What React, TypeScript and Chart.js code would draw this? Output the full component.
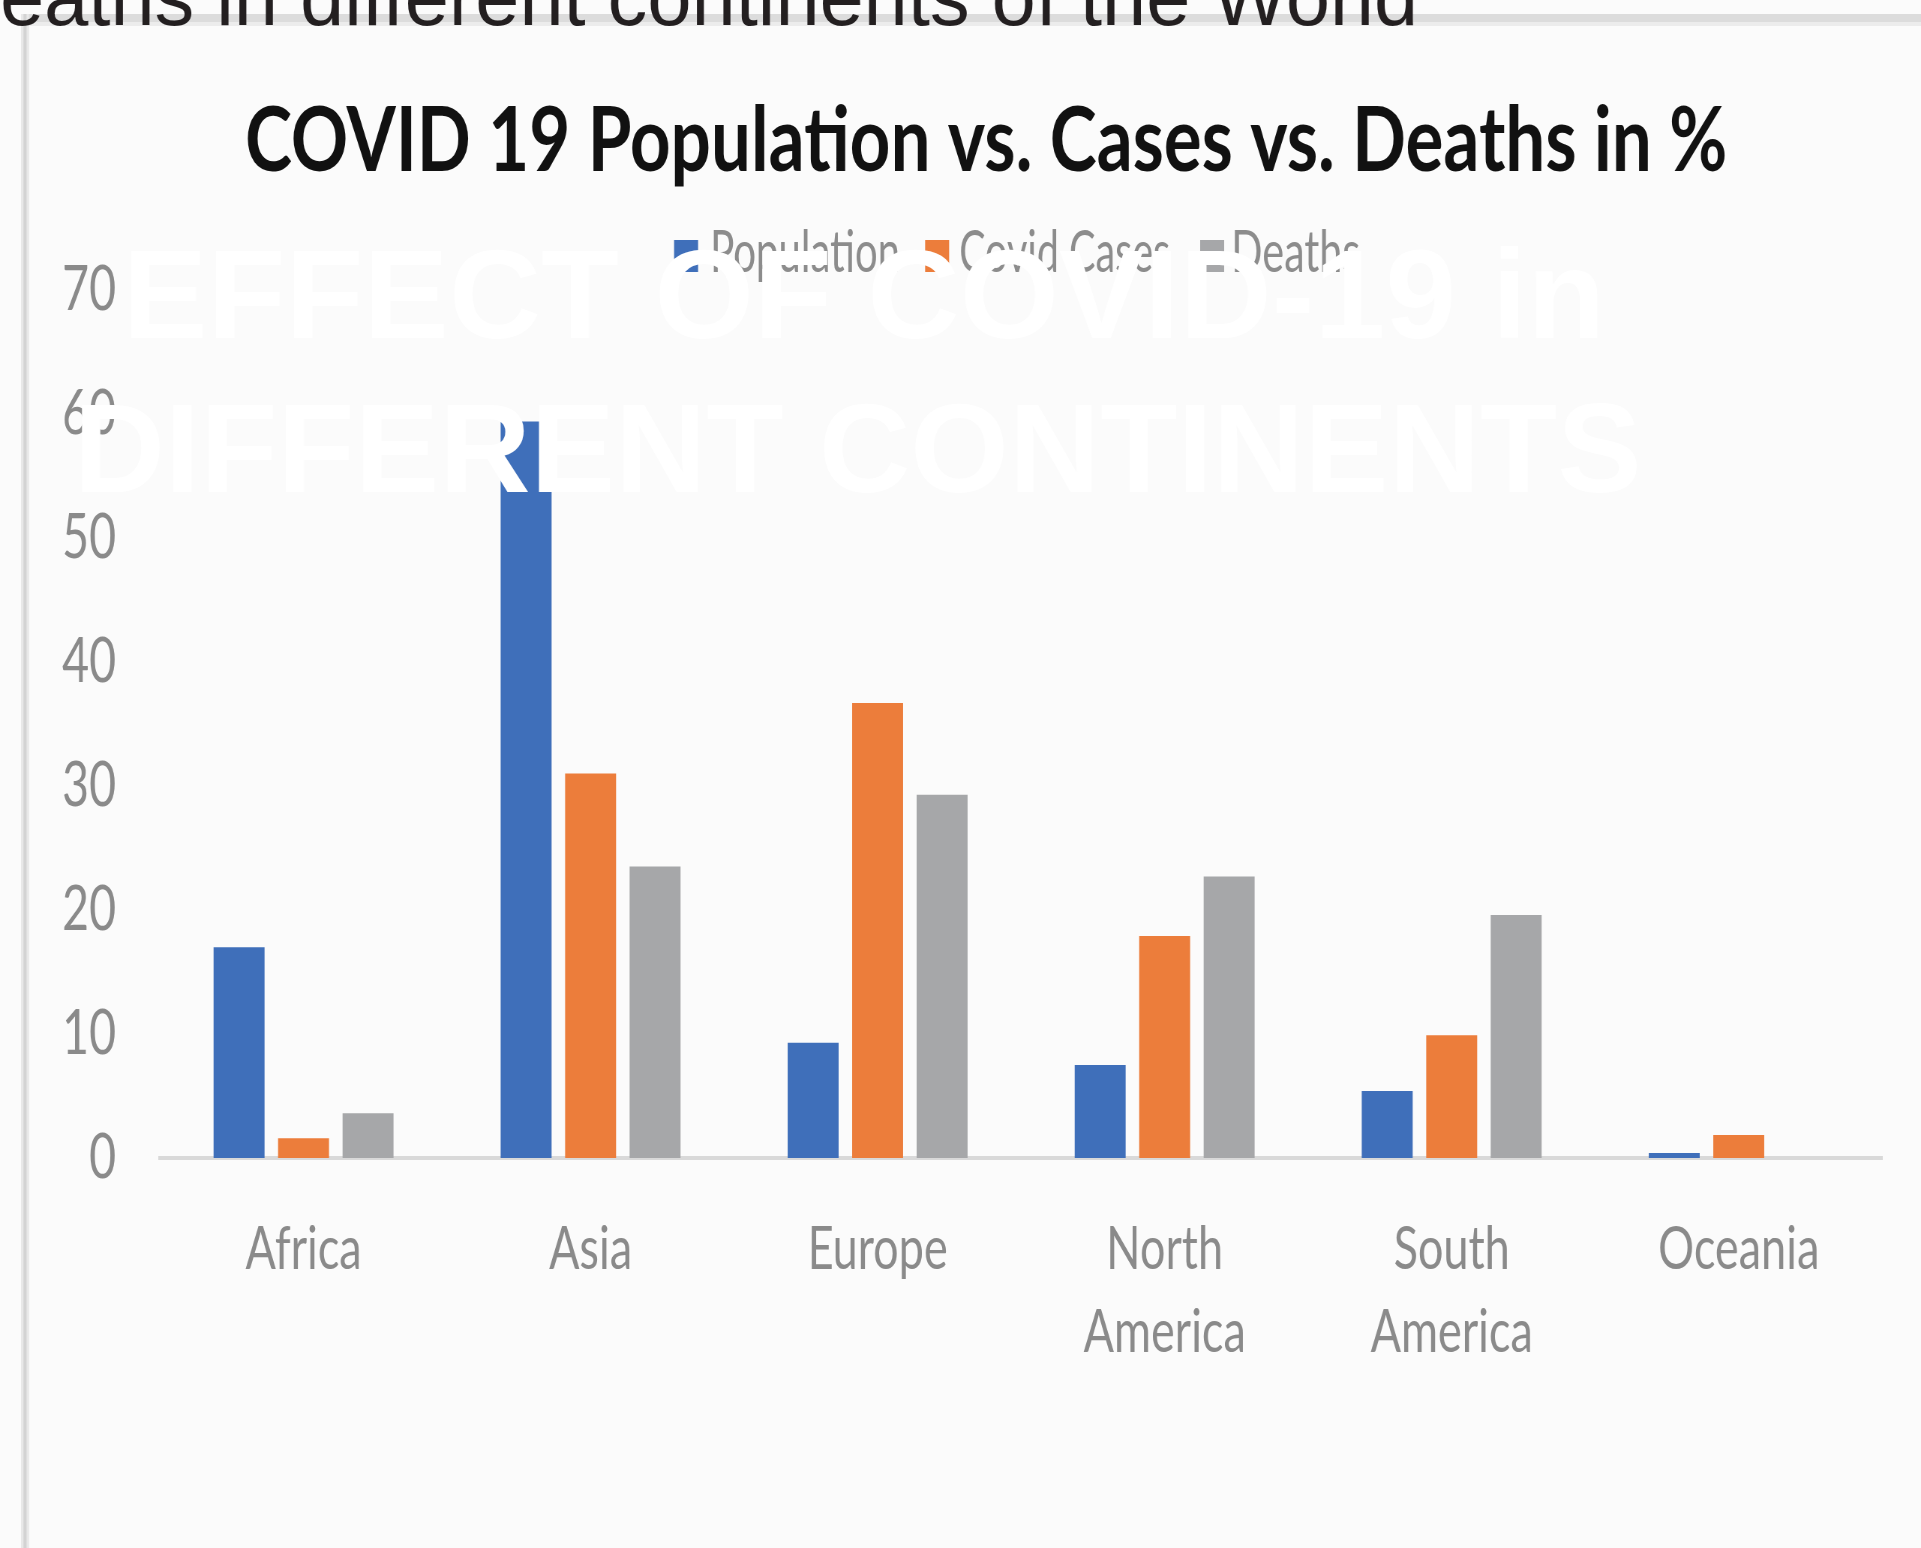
import React, { useEffect, useRef } from 'react';
import { Chart, registerables } from 'chart.js';

Chart.register(...registerables);

// ---------- data ----------
const continents: (string | string[])[] = ['Africa', 'Asia', 'Europe', ['North', 'America'], ['South', 'America'], 'Oceania'];
const populationPct = [17.0, 59.4, 9.3, 7.5, 5.4, 0.4];
const covidCasesPct = [1.6, 31.0, 36.7, 17.9, 9.9, 1.85];
const deathsPct = [3.6, 23.5, 29.3, 22.7, 19.6, 0];
const seriesNames = ['Population', 'Covid Cases', 'Deaths'];
const seriesColors = ['#3F6FBA', '#EC7D3B', '#A6A7A9'];
const yMin = 0;
const yMax = 70;
const yStep = 10;
const chartTitle = 'COVID 19 Population vs. Cases vs. Deaths in %';
const pageHeading = 'Deaths in different continents of the World';
const overlayLines = ['EFFECT OF COVID-19 in', 'DIFFERENT CONTINENTS'];

// ---------- geometry (display px -> internal px; canvas is squeezed horizontally) ----------
const S = 0.75;
const W = Math.round(1921 / S);
const H = 1548;
const X = (d: number) => d / S;

function fitText(ctx: CanvasRenderingContext2D, text: string, x: number, y: number, targetW: number, align: 'left' | 'center') {
  const w = ctx.measureText(text).width;
  const k = targetW / w;
  ctx.save();
  ctx.translate(x, y);
  ctx.scale(k, 1);
  ctx.textAlign = align;
  ctx.textBaseline = 'alphabetic';
  ctx.fillText(text, 0, 0);
  ctx.restore();
}

const decorPlugin = {
  id: 'decor',
  beforeDraw(chart: any) {
    const ctx: CanvasRenderingContext2D = chart.ctx;
    ctx.save();
    ctx.fillStyle = '#fbfbfb';
    ctx.fillRect(0, 0, W, H);
    // window-like top band and left rule
    ctx.fillStyle = '#dcdcdc';
    ctx.fillRect(X(22), 14, W, 8);
    ctx.fillStyle = '#ececec';
    ctx.fillRect(X(22), 22, W, 4);
    ctx.fillStyle = '#e8e8e8';
    ctx.fillRect(X(21), 14, X(8), H);
    ctx.fillStyle = '#d3d3d3';
    ctx.fillRect(X(23.5), 14, X(3), H);
    // cut-off heading at the very top
    ctx.font = '82px "Liberation Sans", Arial, sans-serif';
    ctx.fillStyle = '#231f20';
    ctx.textBaseline = 'alphabetic';
    ctx.textAlign = 'left';
    const rest = pageHeading.slice(1);
    const k = X(1418) / ctx.measureText(rest).width;
    const dW = ctx.measureText(pageHeading.slice(0, 1)).width * k;
    ctx.translate(-dW, 25);
    ctx.scale(k, 1);
    ctx.fillText(pageHeading, 0, 0);
    ctx.restore();
  },
  afterDraw(chart: any) {
    const ctx: CanvasRenderingContext2D = chart.ctx;
    ctx.save();
    // chart title
    ctx.font = 'bold 89px Lato, "Open Sans", sans-serif';
    ctx.fillStyle = '#111111';
    fitText(ctx, chartTitle, X(986), 171, X(1482), 'center');
    // legend
    const sqX = [674, 925, 1200];
    const txX = [710, 959, 1231];
    const txW = [190, 211, 129];
    ctx.font = '58px Lato, "Open Sans", sans-serif';
    chart.data.datasets.forEach((ds: any, i: number) => {
      ctx.fillStyle = ds.backgroundColor;
      ctx.fillRect(X(sqX[i]), 240, X(24), 32);
      ctx.fillStyle = '#8c8c8c';
      fitText(ctx, ds.label, X(txX[i]), 272, X(txW[i]), 'left');
    });
    // white overlay heading
    ctx.font = 'bold 127px "Liberation Sans", Arial, sans-serif';
    ctx.fillStyle = '#ffffff';
    fitText(ctx, overlayLines[0], X(122.5), 338, X(1482.5), 'left');
    fitText(ctx, overlayLines[1], X(73.5), 492, X(1568), 'left');
    ctx.restore();
  },
};

export default function App() {
  const canvasRef = useRef<HTMLCanvasElement | null>(null);

  useEffect(() => {
    if (!canvasRef.current) return;
    const values = [populationPct, covidCasesPct, deathsPct];
    const chart = new Chart(canvasRef.current, {
      type: 'bar',
      data: {
        labels: continents,
        datasets: seriesNames.map((name, i) => ({
          label: name,
          data: values[i],
          backgroundColor: seriesColors[i],
          borderWidth: 0,
          categoryPercentage: 0.674,
          barPercentage: 0.79,
        })),
      },
      options: {
        responsive: false,
        animation: false,
        devicePixelRatio: 1,
        layout: {
          padding: {
            top: 290,
            left: X(160) - 150,
            right: W - X(1882),
            bottom: H - 1158 - 250,
          },
        },
        plugins: {
          legend: { display: false },
          title: { display: false },
          tooltip: { enabled: false },
        },
        scales: {
          x: {
            grid: { display: false, drawTicks: false },
            border: { display: true, color: '#d9d9d9', width: 4 },
            ticks: {
              font: { family: 'Lato, "Open Sans", sans-serif', size: 60, lineHeight: 1.38 },
              color: '#8a8a8a',
              padding: 50,
              maxRotation: 0,
              autoSkip: false,
            },
            afterFit: (s: any) => {
              s.height = 250;
            },
          },
          y: {
            min: yMin,
            max: yMax,
            ticks: {
              stepSize: yStep,
              font: { family: 'Lato, "Open Sans", sans-serif', size: 62 },
              color: '#8a8a8a',
              padding: X(160 - 116),
            },
            grid: { display: false, drawTicks: false },
            border: { display: false },
            afterFit: (s: any) => {
              s.width = 150;
            },
          },
        },
      },
      plugins: [decorPlugin],
    });
    return () => chart.destroy();
  }, []);

  return (
    <div style={{ position: 'fixed', left: 0, top: 0, width: '1921px', height: '1548px', overflow: 'hidden', background: '#fbfbfb' }}>
      <canvas
        ref={canvasRef}
        width={W}
        height={H}
        style={{ width: '1921px', height: '1548px', display: 'block' }}
      />
    </div>
  );
}
